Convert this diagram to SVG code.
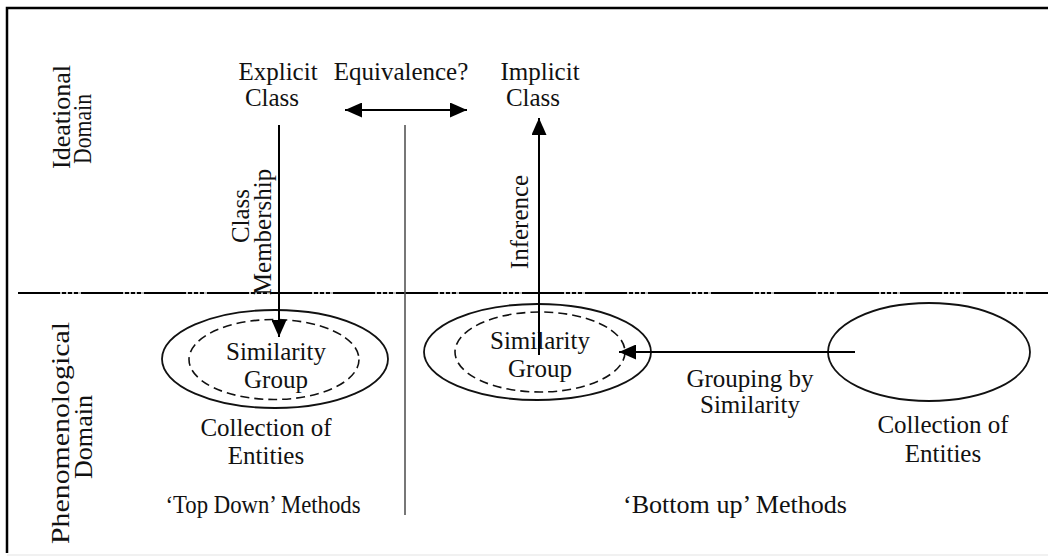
<svg xmlns="http://www.w3.org/2000/svg" width="1048" height="558" viewBox="0 0 1048 558">
<style>
text{font-family:"Liberation Serif","Times New Roman",serif;font-size:25px;fill:#111;text-anchor:middle}
.side{font-size:26px}
.ln{stroke:#000;stroke-width:2;fill:none}
.el{stroke:#111;stroke-width:1.8;fill:none}
.dash{stroke:#111;stroke-width:1.6;fill:none;stroke-dasharray:9 5}
</style>
<defs>
<marker id="ah" viewBox="0 0 17 15" refX="17" refY="7.5" markerWidth="17" markerHeight="15" markerUnits="userSpaceOnUse" orient="auto-start-reverse">
<path d="M0,0 L17,7.5 L0,15 Z" fill="#000"/>
</marker>
</defs>
<rect x="0" y="0" width="1048" height="558" fill="#fff"/>
<g id="frame">
<path d="M7,553 V8 H1048" stroke="#000" stroke-width="2.5" fill="none"/>
<line x1="7" y1="555" x2="1048" y2="555" stroke="#ececec" stroke-width="1.5"/>
</g>
<g id="divider">
<line x1="18" y1="293" x2="1048" y2="293" stroke="#aaa" stroke-width="1.5"/>
<line x1="18" y1="293" x2="1048" y2="293" stroke="#000" stroke-width="2" stroke-dasharray="42 2 4 2 4 2 4 3"/>
<line x1="405" y1="125" x2="405" y2="515" stroke="#555" stroke-width="1.6"/>
</g>
<g id="domain-labels">
<text class="side" transform="translate(70,117) rotate(-90)" textLength="104" lengthAdjust="spacingAndGlyphs">Ideational</text>
<text class="side" transform="translate(91,129) rotate(-90)" textLength="70" lengthAdjust="spacingAndGlyphs">Domain</text>
<text class="side" transform="translate(69,433) rotate(-90)" textLength="222" lengthAdjust="spacingAndGlyphs">Phenomenological</text>
<text class="side" transform="translate(92,437) rotate(-90)" textLength="84" lengthAdjust="spacingAndGlyphs">Domain</text>
</g>
<g id="explicit-class">
<text x="278" y="80">Explicit</text>
<text x="272" y="106">Class</text>
</g>
<g id="equivalence">
<text x="401" y="80">Equivalence?</text>
</g>
<g id="implicit-class">
<text x="540" y="80">Implicit</text>
<text x="533" y="106">Class</text>
</g>
<g id="top-down-group">
<ellipse class="el" cx="275" cy="359" rx="113" ry="49"/>
<ellipse class="dash" cx="274" cy="359.5" rx="85" ry="40"/>
<text x="276" y="360">Similarity</text>
<text x="276" y="388">Group</text>
<text x="266" y="436">Collection of</text>
<text x="266" y="464">Entities</text>
</g>
<g id="bottom-up-group">
<ellipse class="el" cx="537.5" cy="352" rx="113.5" ry="48"/>
<ellipse class="dash" cx="540" cy="352" rx="85" ry="40"/>
<text x="540" y="349">Similarity</text>
<text x="540" y="377">Group</text>
</g>
<g id="collection-right">
<ellipse class="el" cx="929" cy="352" rx="101" ry="49"/>
<text x="943" y="433">Collection of</text>
<text x="943" y="462">Entities</text>
</g>
<g id="method-labels">
<text x="263" y="513" textLength="195" lengthAdjust="spacingAndGlyphs">‘Top Down’ Methods</text>
<text x="735" y="513" textLength="224" lengthAdjust="spacingAndGlyphs">‘Bottom up’ Methods</text>
</g>
<g id="connectors">
<line class="ln" x1="345" y1="110" x2="467" y2="110" marker-start="url(#ah)" marker-end="url(#ah)"/>
<line class="ln" x1="279" y1="125" x2="279" y2="337" marker-end="url(#ah)"/>
<line class="ln" x1="539" y1="355" x2="539" y2="118" marker-end="url(#ah)"/>
<line class="ln" x1="855" y1="352" x2="619" y2="352" marker-end="url(#ah)"/>
<text transform="translate(249,216) rotate(-90)">Class</text>
<text transform="translate(271,232) rotate(-90)">Membership</text>
<text transform="translate(528,222) rotate(-90)">Inference</text>
<text x="750" y="387">Grouping by</text>
<text x="750" y="413">Similarity</text>
</g>
</svg>
